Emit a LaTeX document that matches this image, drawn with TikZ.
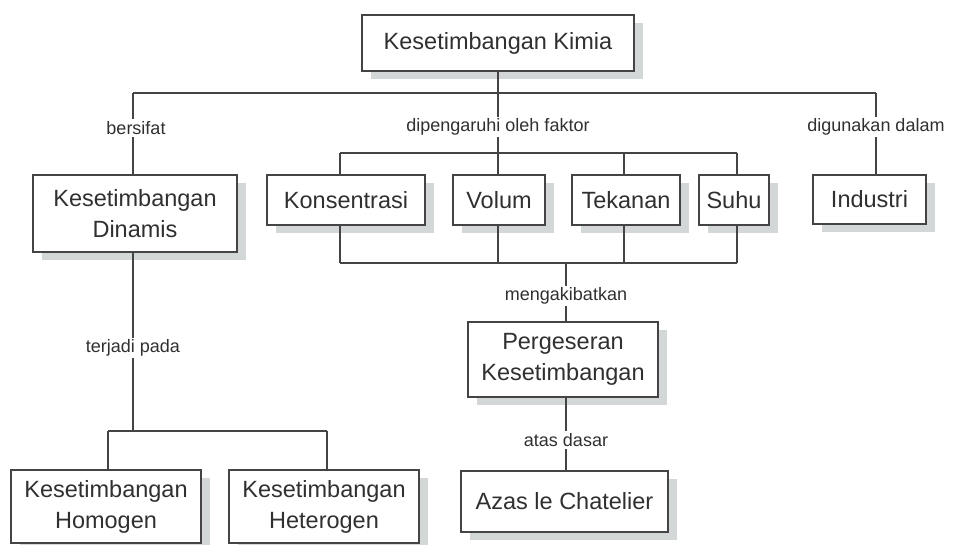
\documentclass[tikz,border=0pt]{standalone}
\usepackage{fontspec}
\setmainfont{Liberation Sans}
\usetikzlibrary{shadows}
\definecolor{linegray}{HTML}{444444}
\definecolor{txtgray}{HTML}{303030}
\definecolor{shadowgray}{HTML}{D4D7D7}
\tikzset{
  box/.style={draw=linegray, line width=2pt, fill=white, text=txtgray, align=center,
    inner sep=0pt, font=\fontsize{23.5}{31}\selectfont,
    drop shadow={shadow xshift=9pt, shadow yshift=-8pt, fill=shadowgray, opacity=1}},
  lbl/.style={fill=white, text=txtgray, inner sep=2pt, font=\fontsize{18}{21}\selectfont},
  conn/.style={draw=linegray, line width=2pt}
}
\begin{document}
\begin{tikzpicture}[x=1pt,y=-1pt]
\useasboundingbox (0,0) rectangle (954,545);
% boxes
\node[box, minimum width=272pt, minimum height=56pt] (kimia) at (498,43) {Kesetimbangan Kimia};
\node[box, minimum width=204pt, minimum height=77pt] (dinamis) at (135,213.5) {Kesetimbangan\\Dinamis};
\node[box, minimum width=158pt, minimum height=50pt] (kons) at (346,200) {Konsentrasi};
\node[box, minimum width=92pt, minimum height=50pt] (volum) at (499,200) {Volum};
\node[box, minimum width=108pt, minimum height=50pt] (tekanan) at (626,200) {Tekanan};
\node[box, minimum width=70pt, minimum height=50pt] (suhu) at (734,200) {Suhu};
\node[box, minimum width=113pt, minimum height=49pt] (industri) at (869.5,199.5) {Industri};
\node[box, minimum width=190pt, minimum height=75pt] (pergeseran) at (563,359.5) {Pergeseran\\Kesetimbangan};
\node[box, minimum width=207pt, minimum height=61pt] (azas) at (564.5,501.5) {Azas le Chatelier};
\node[box, minimum width=190pt, minimum height=73pt] (homogen) at (106,506.5) {Kesetimbangan\\Homogen};
\node[box, minimum width=190pt, minimum height=73pt] (heterogen) at (324,506.5) {Kesetimbangan\\Heterogen};
% junction coordinates
\coordinate (tL) at (133,93);
\coordinate (tM) at (498,93);
\coordinate (tR) at (876,93);
\coordinate (fL) at (340,153);
\coordinate (fM) at (498,153);
\coordinate (fT) at (624,153);
\coordinate (fR) at (737,153);
\coordinate (gL) at (340,263);
\coordinate (gV) at (498,263);
\coordinate (gT) at (624,263);
\coordinate (gM) at (566,263);
\coordinate (gR) at (737,263);
\coordinate (hL) at (108,431);
\coordinate (hM) at (133,431);
\coordinate (hR) at (327,431);
% connectors
\draw[conn] (tL) -- (tR);
\draw[conn] (kimia.south -| tM) -- (tM);
\draw[conn] (tL) -- (tL |- dinamis.north);
\draw[conn] (tM) -- (fM);
\draw[conn] (tR) -- (tR |- industri.north);
\draw[conn] (fL) -- (fR);
\draw[conn] (fL) -- (fL |- kons.north);
\draw[conn] (fM) -- (fM |- volum.north);
\draw[conn] (fT) -- (fT |- tekanan.north);
\draw[conn] (fR) -- (fR |- suhu.north);
\draw[conn] (gL |- kons.south) -- (gL);
\draw[conn] (gV |- volum.south) -- (gV);
\draw[conn] (gT |- tekanan.south) -- (gT);
\draw[conn] (gR |- suhu.south) -- (gR);
\draw[conn] (gL) -- (gR);
\draw[conn] (gM) -- (gM |- pergeseran.north);
\draw[conn] (pergeseran.south -| gM) -- (azas.north -| gM);
\draw[conn] (dinamis.south -| hM) -- (hM);
\draw[conn] (hL) -- (hR);
\draw[conn] (hL) -- (hL |- homogen.north);
\draw[conn] (hR) -- (hR |- heterogen.north);
% labels
\node[lbl] (lb1) at (136,128) {bersifat};
\node[lbl] (lb2) at (498,127) {dipengaruhi oleh faktor};
\node[lbl] (lb3) at (876,127) {digunakan dalam};
\node[lbl] (lb4) at (566,296) {mengakibatkan};
\node[lbl] (lb5) at (566,440) {atas dasar};
\node[lbl] (lb6) at (133,348) {terjadi pada};
\end{tikzpicture}
\end{document}
